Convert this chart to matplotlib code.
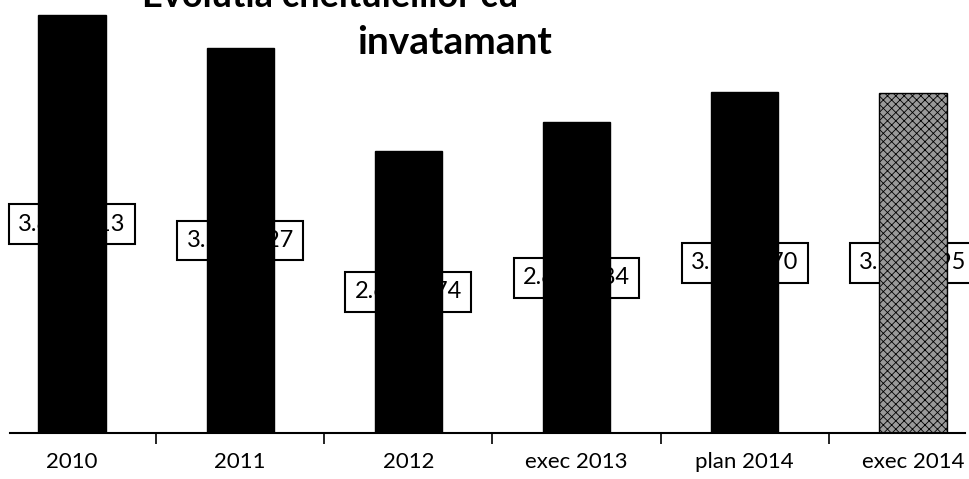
import matplotlib
matplotlib.use("Agg")
import matplotlib.pyplot as plt
import numpy as np

plt.rcParams['font.family'] = ['Lato', 'DejaVu Sans']
plt.rcParams['hatch.linewidth'] = 0.6

# Data
categories = ["2010", "2011", "2012", "exec 2013", "plan 2014", "exec 2014"]
values = [3861413, 3556827, 2605374, 2869184, 3146170, 3141295]
title_top = "Evolutia cheltuielilor cu"
title_main = "invatamant"

fig = plt.figure(figsize=(9.70, 4.79), dpi=100)
ax = fig.add_axes([10 / 970, 46 / 479, 955 / 970, 433 / 479])

x = np.arange(len(categories))
bars = ax.bar(x, values, width=0.4, color="black", edgecolor="black", zorder=3)

# last bar is the grey textured one
bars[-1].set_facecolor("#9a9a9a")
bars[-1].set_hatch("xxxx")
bars[-1].set_edgecolor("black")

# value labels centered in the bars, boxes partly hidden by the bars
for xi, v in zip(x, values):
    label = f"{v:,}".replace(",", ".")
    ax.text(xi, v / 2, label, ha="center", va="center", fontsize=17,
            zorder=2,
            bbox=dict(boxstyle="square,pad=0.4", facecolor="white",
                      edgecolor="black", linewidth=1.5))

ax.set_xlim(-0.369, 5.31)
ax.set_ylim(0, 4000000)

for side in ["top", "right", "left"]:
    ax.spines[side].set_visible(False)
ax.spines["bottom"].set_linewidth(1.5)
ax.spines["bottom"].set_zorder(4)

ax.set_yticks([])
ax.set_xticks(x)
ax.set_xticklabels(categories, fontsize=16)
ax.tick_params(axis="x", which="major", length=0, pad=14)
ax.set_xticks(x[:-1] + 0.5, minor=True)
ax.tick_params(axis="x", which="minor", length=8, width=1.2, direction="out")

# first title line is cut off by the top edge in the scan
fig.text(330 / 970, 1 - 7 / 479, title_top, ha="center", va="baseline",
         fontsize=26, fontweight="bold")
fig.text(455 / 970, 1 - 42 / 479, title_main, ha="center", va="center",
         fontsize=28, fontweight="bold")

fig.savefig("out.png", dpi=100)
